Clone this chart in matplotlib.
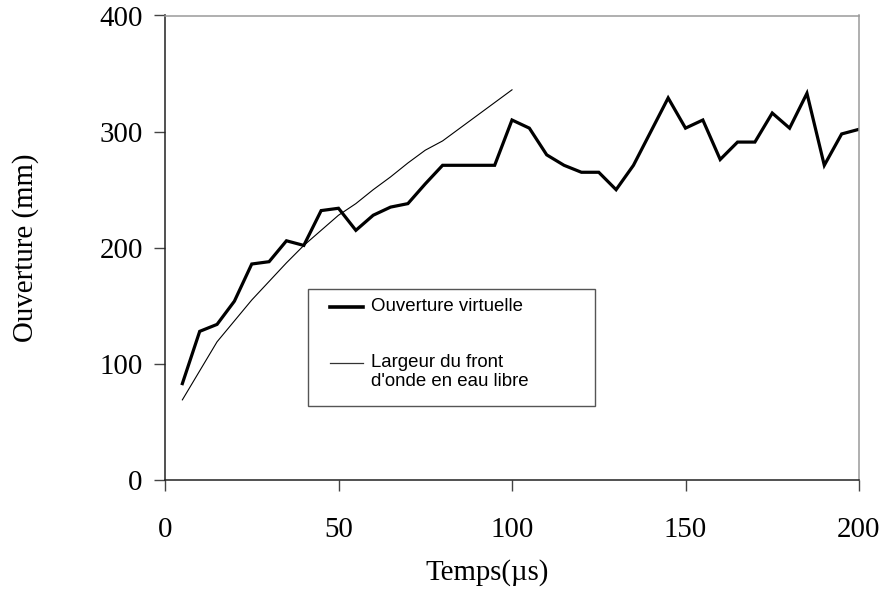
import matplotlib
matplotlib.use("Agg")
import matplotlib.pyplot as plt
from matplotlib.patches import Rectangle
from matplotlib.lines import Line2D

# Time (µs) and measured virtual aperture (mm)
temps = [5, 10, 15, 20, 25, 30, 35, 40, 45, 50, 55, 60, 65, 70, 75, 80, 85, 90, 95, 100,
         105, 110, 115, 120, 125, 130, 135, 140, 145, 150, 155, 160, 165, 170, 175, 180,
         185, 190, 195, 200]
ouverture_virtuelle = [83, 128, 134, 154, 186, 188, 206, 202, 232, 234, 215, 228, 235, 238,
                       255, 271, 271, 271, 271, 310, 303, 280, 271, 265, 265, 250, 271, 300,
                       329, 303, 310, 276, 291, 291, 316, 303, 333, 271, 298, 302]

# Wavefront width in free water (computed up to 100 µs)
temps_libre = [5, 10, 15, 20, 25, 30, 35, 40, 45, 50, 55, 60, 65, 70, 75, 80, 85, 90, 95, 100]
largeur_front = [69, 94, 119, 137, 155, 171, 187, 202, 215, 228, 238, 250, 261, 273, 284,
                 292, 303, 314, 325, 336]

x_ticks = [0, 50, 100, 150, 200]
y_ticks = [0, 100, 200, 300, 400]

label_serie1 = "Ouverture virtuelle"
label_serie2 = ["Largeur du front", "d'onde en eau libre"]

fig = plt.figure(figsize=(8.84, 5.91), dpi=100)
ax = fig.add_axes([165 / 884, 1 - 480 / 591, 694 / 884, 464.5 / 591])

ax.plot(temps, ouverture_virtuelle, color="black", lw=2.3, solid_joinstyle="miter")
ax.plot(temps_libre, largeur_front, color="black", lw=0.8)

ax.set_xlim(0, 200)
ax.set_ylim(0, 400)
ax.set_xticks(x_ticks)
ax.set_yticks(y_ticks)

serif = "Liberation Serif"
for lab in ax.get_xticklabels() + ax.get_yticklabels():
    lab.set_fontfamily(serif)
    lab.set_fontsize(20.8)

ax.tick_params(axis="both", direction="out", length=8, width=1, color="#444444")
ax.tick_params(axis="x", pad=18.5)
ax.tick_params(axis="y", pad=8)

for side in ("left", "bottom"):
    ax.spines[side].set_color("#222222")
    ax.spines[side].set_linewidth(1.1)
for side in ("top", "right"):
    ax.spines[side].set_color("#9a9a9a")
    ax.spines[side].set_linewidth(1.1)

ax.set_xlabel("Temps(µs)", fontfamily=serif, fontsize=20.8, va="center")
ax.xaxis.set_label_coords((487 - 165) / 694, (480 - 573) / 464.5)
ax.set_ylabel("Ouverture (mm)", fontfamily=serif, fontsize=20.8, va="center")
ax.yaxis.set_label_coords((26 - 165) / 694, 0.5)

# Legend box drawn in figure pixel space
def px(x, y):
    return x / 884, 1 - y / 591

x0, y0 = px(307.7, 406)
x1, y1 = px(595, 289.3)
fig.patches.append(Rectangle((x0, y0), x1 - x0, y1 - y0, transform=fig.transFigure,
                             facecolor="white", edgecolor="#555555", lw=1.0, zorder=5))

sans = "Liberation Sans"
lx0, _ = px(330, 0)
lx1, _ = px(363, 0)
tx, _ = px(371, 0)
_, ly1 = px(0, 306.7)
_, ly2 = px(0, 362.7)
_, ly3 = px(0, 381.7)
fig.lines.append(Line2D([lx0, lx1], [ly1, ly1], transform=fig.transFigure,
                        color="black", lw=2.6, zorder=6))
fig.lines.append(Line2D([lx0, lx1], [ly2, ly2], transform=fig.transFigure,
                        color="#333333", lw=0.9, zorder=6))
fig.text(tx, ly1, label_serie1, fontfamily=sans, fontsize=13.4, va="center", ha="left", zorder=7)
fig.text(tx, ly2, label_serie2[0], fontfamily=sans, fontsize=13.4, va="center", ha="left", zorder=7)
fig.text(tx, ly3, label_serie2[1], fontfamily=sans, fontsize=13.4, va="center", ha="left", zorder=7)

fig.savefig("out.png", dpi=100)
